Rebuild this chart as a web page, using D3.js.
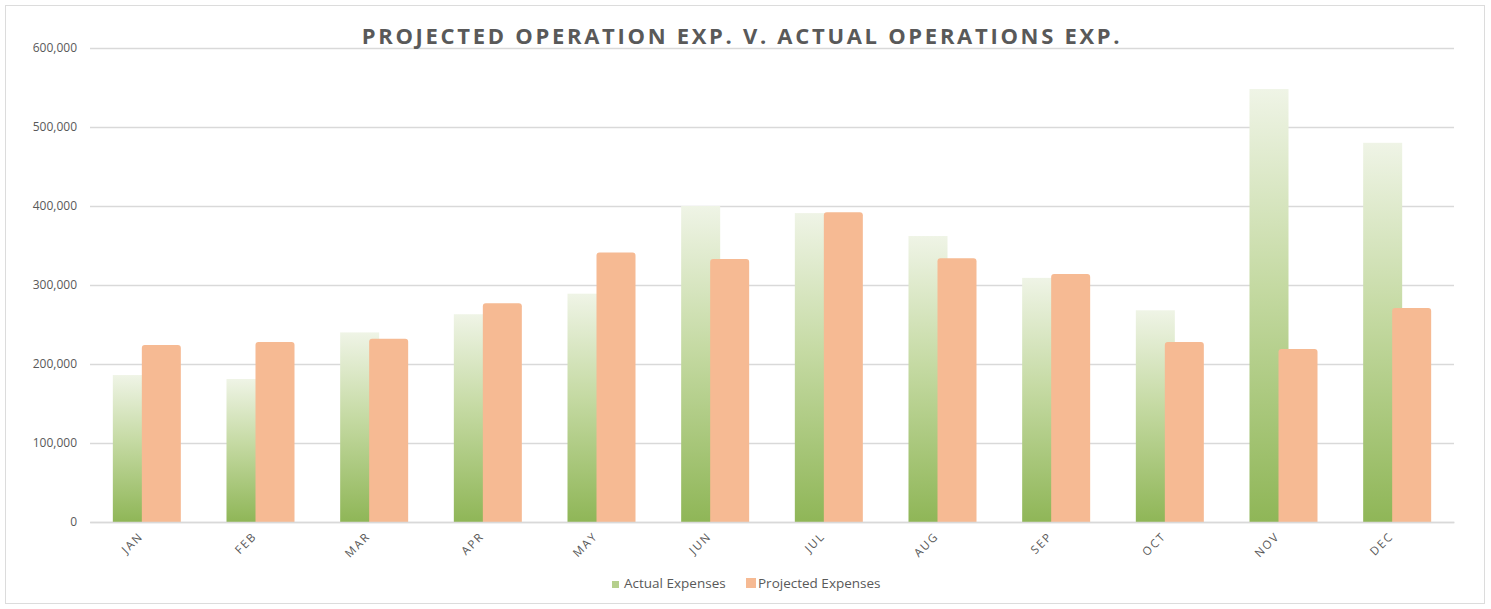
<!DOCTYPE html>
<html>
<head>
<meta charset="utf-8">
<script src="https://cdn.jsdelivr.net/npm/d3@7"></script>
<style>
  body { margin: 0; background: #fff; }
  svg { display: block; font-family: "Open Sans", sans-serif; }
</style>
</head>
<body>
<svg id="chart"></svg>
<script>
//months along the x axis
let months = ['JAN', 'FEB', 'MAR', 'APR', 'MAY', 'JUN', 'JUL', 'AUG', 'SEP', 'OCT', 'NOV', 'DEC'];

//series values
let actualExpenses = [186000, 181000, 240000, 263000, 289000, 400000, 391000, 362000, 309000, 268000, 548000, 480000];
let projectedExpenses = [224000, 228000, 232000, 277000, 341000, 333000, 392000, 334000, 314000, 228000, 219000, 271000];

//y tick values
let yTicks = [0, 100000, 200000, 300000, 400000, 500000, 600000];

//svg dimensions
let width = 1491;
let height = 609;
let plotLeft = 90;
let plotRight = 1454;
let plotTop = 48;
let plotBottom = 522;

let svg = d3.select('#chart')
    .attr('width', width)
    .attr('height', height);

//outer chart border
svg.append('rect')
    .attr('x', 5.5).attr('y', 5.5)
    .attr('width', 1479).attr('height', 598)
    .attr('fill', '#fff')
    .attr('stroke', '#dcdcdc');

//gradient for the actual bars
let defs = svg.append('defs');
let grad = defs.append('linearGradient')
    .attr('id', 'greenGrad')
    .attr('x1', 0).attr('y1', 1).attr('x2', 0).attr('y2', 0);
grad.append('stop').attr('offset', '0%').attr('stop-color', '#8fb657');
grad.append('stop').attr('offset', '55%').attr('stop-color', '#c5daa3');
grad.append('stop').attr('offset', '100%').attr('stop-color', '#eff4e6');

//scales
let xScale = d3.scaleBand()
    .domain(months)
    .range([plotLeft, plotRight]);

let yScale = d3.scaleLinear()
    .domain([0, 600000])
    .range([plotBottom, plotTop]);

//gridlines + y labels
let yAxis = d3.axisLeft(yScale)
    .tickValues(yTicks)
    .tickSize(-(plotRight - plotLeft))
    .tickPadding(13)
    .tickFormat(d3.format(','));

let yG = svg.append('g')
    .attr('transform', 'translate(' + plotLeft + ', 0)')
    .call(yAxis);
yG.select('.domain').remove();
yG.selectAll('line').attr('stroke', '#d9d9d9').attr('stroke-width', 1.3);
yG.selectAll('text')
    .attr('fill', '#595959')
    .attr('font-size', '12px')
    .attr('font-family', '"Open Sans", sans-serif');

//bars: green drawn first, orange overlaps it slightly
let barW = 39;

svg.append('g')
    .selectAll('rect')
    .data(actualExpenses)
    .enter()
    .append('rect')
    .attr('x', (d, i) => xScale(months[i]) + xScale.bandwidth() / 2 - 34)
    .attr('y', d => yScale(d))
    .attr('width', barW)
    .attr('height', d => plotBottom - yScale(d))
    .attr('fill', 'url(#greenGrad)');

svg.append('g')
    .selectAll('path')
    .data(projectedExpenses)
    .enter()
    .append('path')
    .attr('d', (d, i) => {
        let x0 = xScale(months[i]) + xScale.bandwidth() / 2 - 5;
        let y0 = yScale(d);
        let r = 3;
        return 'M' + x0 + ',' + plotBottom +
            'V' + (y0 + r) +
            'Q' + x0 + ',' + y0 + ' ' + (x0 + r) + ',' + y0 +
            'H' + (x0 + barW - r) +
            'Q' + (x0 + barW) + ',' + y0 + ' ' + (x0 + barW) + ',' + (y0 + r) +
            'V' + plotBottom + 'Z';
    })
    .attr('fill', '#f6ba93');

//x axis with rotated labels
let xAxis = d3.axisBottom(xScale).tickSize(0).tickPadding(0);
let xG = svg.append('g')
    .attr('transform', 'translate(0, ' + plotBottom + ')')
    .call(xAxis);
xG.select('.domain').attr('stroke', '#d9d9d9').attr('stroke-width', 1.3);
xG.selectAll('text')
    .attr('fill', '#595959')
    .attr('font-size', '11.5px')
    .attr('letter-spacing', '1.8px')
    .attr('font-family', '"Open Sans", sans-serif')
    .attr('text-anchor', 'end')
    .attr('dy', null)
    .attr('transform', 'translate(-3, 15) rotate(-45)');

//title
svg.append('text')
    .attr('x', 742)
    .attr('y', 44)
    .attr('text-anchor', 'middle')
    .attr('fill', '#595959')
    .attr('font-size', '22px')
    .attr('font-weight', 'bold')
    .attr('letter-spacing', '2.7px')
    .text('PROJECTED OPERATION EXP. V. ACTUAL OPERATIONS EXP.');

//legend
let legend = [
    { name: 'Actual Expenses', color: '#b5cf8c', x: 612, size: 7 },
    { name: 'Projected Expenses', color: '#f6ba93', x: 746, size: 10 }
];
let lg = svg.append('g');
legend.forEach(l => {
    lg.append('rect')
        .attr('x', l.x)
        .attr('y', 588 - l.size)
        .attr('width', l.size)
        .attr('height', l.size)
        .attr('fill', l.color);
    lg.append('text')
        .attr('x', l.x + 12)
        .attr('y', 588)
        .attr('fill', '#595959')
        .attr('font-size', '13.5px')
        .text(l.name);
});
</script>
</body>
</html>
